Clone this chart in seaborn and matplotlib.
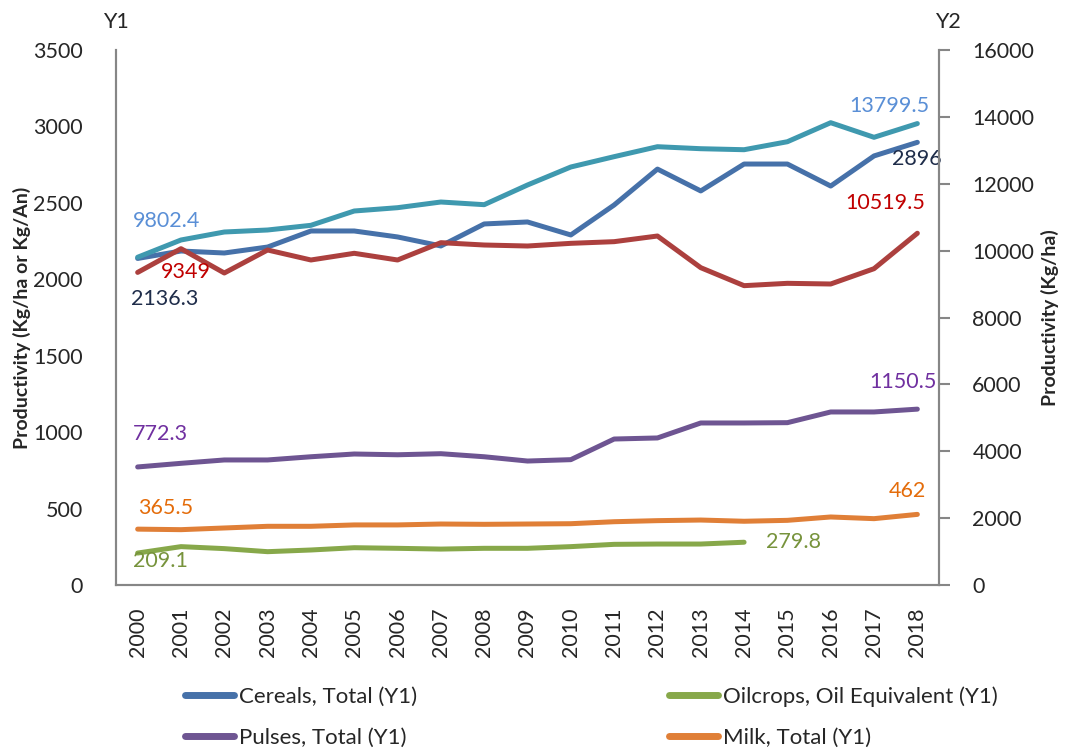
import numpy as np
import pandas as pd
import matplotlib
matplotlib.use("Agg")
import matplotlib.pyplot as plt
from matplotlib.lines import Line2D
import seaborn as sns

# ---- data ----
years = [str(y) for y in range(2000, 2019)]

cereals = [2136.3, 2185, 2172, 2211, 2316, 2316, 2277, 2218, 2362, 2375,
           2290, 2486, 2721, 2578, 2754, 2754, 2610, 2807, 2896]
oilcrops = [209.1, 251, 238, 218, 229, 244, 240, 235, 240, 240,
            251, 266, 268, 268, 279.8, np.nan, np.nan, np.nan, np.nan]
pulses = [772.3, 796, 818, 818, 839, 857, 852, 859, 839, 811,
          820, 955, 962, 1060, 1060, 1062, 1132, 1132, 1150.5]
milk = [365.5, 362, 373, 384, 384, 393, 393, 399, 397, 399,
        401, 414, 421, 425, 417, 423, 445, 434, 462]
# Y2 series
y2_teal = [9802.4, 10318, 10557, 10617, 10757, 11185, 11284, 11454, 11374, 11963,
           12501, 12810, 13108, 13048, 13018, 13257, 13826, 13389, 13799.5]
y2_red = [9349, 10058, 9331, 10019, 9720, 9920, 9720, 10238, 10168, 10138,
          10218, 10268, 10437, 9490, 8952, 9022, 9002, 9460, 10519.5]

C_CEREALS = "#4671A9"
C_OIL = "#87A84A"
C_PULSES = "#6E5592"
C_MILK = "#E07F37"
C_TEAL = "#3F99AF"
C_RED = "#AC403E"

sns.set_style("white")
plt.rcParams["font.family"] = ["Lato", "DejaVu Sans"]
plt.rcParams["font.size"] = 15

fig = plt.figure(figsize=(10.7, 7.49), dpi=100)
ax = fig.add_axes([116 / 1070, 1 - 585 / 749, (939 - 116) / 1070, (585 - 50) / 749])
ax2 = ax.twinx()

x = np.arange(len(years))
LW = 3.6
sns.lineplot(x=x, y=cereals, ax=ax, color=C_CEREALS, lw=LW)
sns.lineplot(x=x, y=oilcrops, ax=ax, color=C_OIL, lw=LW)
sns.lineplot(x=x, y=pulses, ax=ax, color=C_PULSES, lw=LW)
sns.lineplot(x=x, y=milk, ax=ax, color=C_MILK, lw=LW)
sns.lineplot(x=x, y=y2_teal, ax=ax2, color=C_TEAL, lw=LW)
sns.lineplot(x=x, y=y2_red, ax=ax2, color=C_RED, lw=LW)

ax.set_xlim(-0.5, len(years) - 0.5)
ax.set_ylim(0, 3500)
ax2.set_ylim(0, 16000)
ax.set_yticks(np.arange(0, 3501, 500))
ax2.set_yticks(np.arange(0, 16001, 2000))
ax.set_xticks(x)
ax.set_xticklabels(years, rotation=90)

for a in (ax, ax2):
    for s in a.spines.values():
        s.set_color("#868686")
        s.set_linewidth(1.5)
    a.spines["top"].set_visible(False)
ax.tick_params(axis="y", length=0, pad=24, labelsize=15.5)
ax.tick_params(axis="x", length=0, pad=16, labelsize=15.5)
ax2.tick_params(axis="y", length=8, width=1.5, color="#868686", pad=16, labelsize=15.5)

# axis titles, placed in figure pixels
ax.set_ylabel("Productivity (Kg/ha or Kg/An)", fontweight="bold", fontsize=14)
ax.yaxis.set_label_coords(22 / 1070, 1 - 318 / 749, transform=fig.transFigure)
ax.yaxis.label.set_va("center")
ax2.set_ylabel("Productivity (Kg/ha)", fontweight="bold", fontsize=14)
ax2.yaxis.set_label_coords(1050 / 1070, 1 - 318 / 749, transform=fig.transFigure)
ax2.yaxis.label.set_va("center")

fig.text(116 / 1070, 1 - 22 / 749, "Y1", ha="center", va="center", fontsize=15.5)
fig.text(948 / 1070, 1 - 22 / 749, "Y2", ha="center", va="center", fontsize=15.5)

# data labels
def lab(a, i, vals, txt, color, dx, dy, ha):
    a.annotate(txt, (x[i], vals[i]), xytext=(dx, dy), textcoords="offset pixels",
               ha=ha, va="center", color=color, fontsize=15.5)

lab(ax2, 0, y2_teal, "9802.4", "#5A8FD6", -5, 36, "left")
lab(ax2, 0, y2_red, "9349", "#C00000", 23, 0, "left")
lab(ax, 0, cereals, "2136.3", "#1F2D4A", -7, -41, "left")
lab(ax2, 18, y2_teal, "13799.5", "#5A8FD6", 12, 18, "right")
lab(ax, 18, cereals, "2896", "#1F2D4A", 24, -17, "right")
lab(ax2, 18, y2_red, "10519.5", "#C00000", 8, 30, "right")
lab(ax, 0, pulses, "772.3", "#7030A0", -5, 33, "left")
lab(ax, 0, milk, "365.5", "#E46C0A", 0, 21, "left")
lab(ax, 0, oilcrops, "209.1", "#77933C", -5, -8, "left")
lab(ax, 18, pulses, "1150.5", "#7030A0", 19, 27, "right")
lab(ax, 18, milk, "462", "#E46C0A", 9, 23, "right")
lab(ax, 14, oilcrops, "279.8", "#77933C", 22, 0, "left")

handles = [Line2D([], [], color=C_CEREALS, lw=5),
           Line2D([], [], color=C_PULSES, lw=5),
           Line2D([], [], color=C_OIL, lw=5),
           Line2D([], [], color=C_MILK, lw=5)]
labels = ["Cereals, Total (Y1)", "Pulses, Total (Y1)",
          "Oilcrops, Oil Equivalent (Y1)", "Milk, Total (Y1)"]
fig.legend(handles, labels, ncol=2, loc="upper left",
           bbox_to_anchor=(185 / 1070, 1 - 686 / 749), frameon=False,
           fontsize=16, handlelength=2.2, handletextpad=0.25,
           columnspacing=11.3, labelspacing=0.95, borderpad=0, borderaxespad=0)

fig.savefig("out.png", dpi=100)
